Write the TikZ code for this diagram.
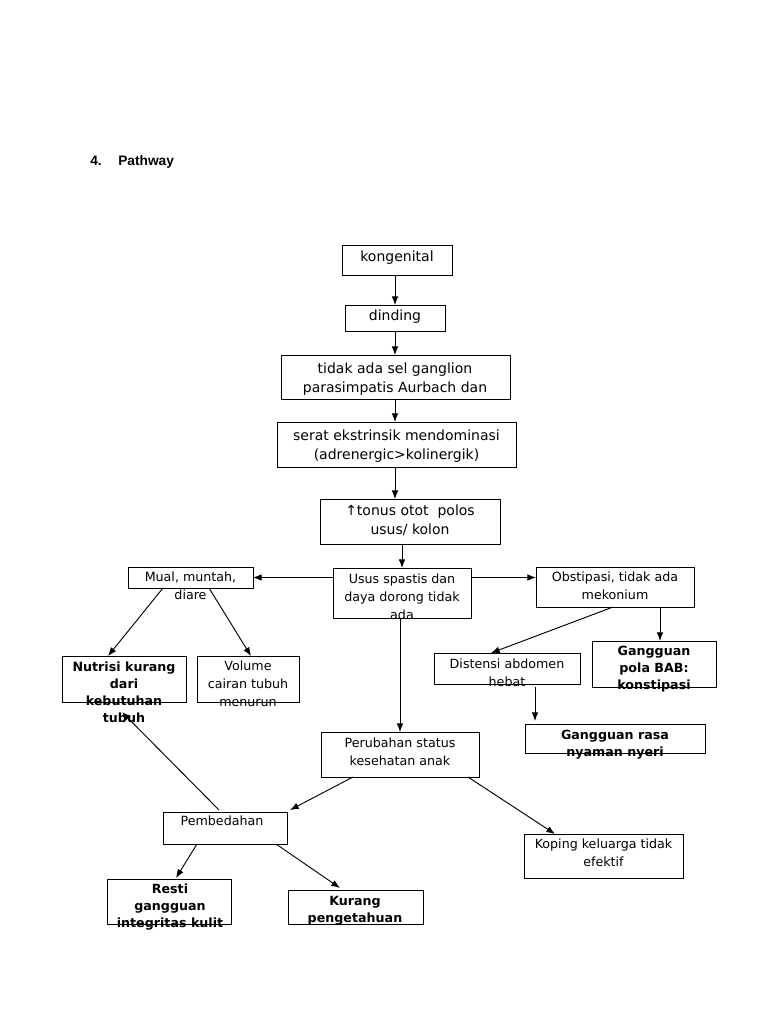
\documentclass[tikz,border=0pt]{standalone}
\usepackage{fontspec}
\setmainfont{DejaVu Sans}
\newfontfamily\hdfont{Liberation Sans}
\usetikzlibrary{arrows.meta,calc}
\tikzset{
  bx/.style={draw, line width=0.7pt, inner sep=0pt, outer sep=0pt},
  tA/.style={inner sep=0pt, anchor=north, align=center, font=\fontsize{10.5}{13.8}\selectfont},
  tB/.style={inner sep=0pt, anchor=north, align=center, font=\fontsize{9.5}{13.2}\selectfont},
  tC/.style={inner sep=0pt, anchor=north, align=center, font=\fontsize{9.5}{12.6}\selectfont\bfseries},
  ar/.style={-{Latex[length=6.5pt,width=5pt]}, line width=0.7pt},
  ln/.style={line width=0.7pt}
}
\newcommand\bxn[5]{\node[bx, minimum width={(#4-#2)*0.75pt}, minimum height={(#5-#3)*0.75pt}] (#1) at ({(#2+#4)/2},{(#3+#5)/2}) {};}
\begin{document}
\begin{tikzpicture}[x=0.75pt,y=-0.75pt]
\fill[white] (0,0) rectangle (768,1024);
\path[use as bounding box] (0,0) rectangle (768,1024);

% heading
\node[inner sep=0pt, anchor=base west, font=\hdfont\fontsize{10.3}{12}\selectfont\bfseries] (hnum) at (90,165) {4.};
\node[inner sep=0pt, anchor=base west, font=\hdfont\fontsize{10.3}{12}\selectfont\bfseries] (htit) at (118,165) {Pathway};

% boxes
\bxn{kong}{342}{245}{452}{275}
\bxn{ding}{345}{305}{445}{331}
\bxn{tidak}{281}{355}{510}{399}
\bxn{serat}{277}{422}{516}{467}
\bxn{tonus}{320}{499}{500}{544}
\bxn{usus}{333}{568}{471}{618}
\bxn{mual}{128}{567}{253}{588}
\bxn{obst}{536}{567}{694}{607}
\bxn{nutr}{62}{656}{186}{702}
\bxn{vol}{197}{656}{299}{702}
\bxn{dist}{434}{653}{580}{684}
\bxn{gpola}{592}{641}{716}{687}
\bxn{grasa}{525}{724}{705}{753}
\bxn{perub}{321}{732}{479}{777}
\bxn{pemb}{163}{812}{287}{844}
\bxn{kop}{524}{834}{683}{878}
\bxn{resti}{107}{879}{231}{924}
\bxn{kur}{288}{890}{423}{924}

% texts
\node[tA] (kongt) at (397,251) {kongenital};
\node[tA] (dingt) at (395,310) {dinding};
\node[tA] (tidakt) at (395,363) {tidak ada sel ganglion\\parasimpatis Aurbach dan};
\node[tA] (seratt) at (396.5,430) {serat ekstrinsik mendominasi\\(adrenergic>kolinergik)};
\node[tA] (tonust) at (410,505) {↑tonus otot\ \ polos\\usus/ kolon};
\node[tB] (usust) at (402,574) {Usus spastis dan\\daya dorong tidak\\ada};
\node[tB] (mualt) at (190.5,572) {Mual, muntah,\\diare};
\node[tB] (obstt) at (615,572) {Obstipasi, tidak ada\\mekonium};
\node[tC] (nutrt) at (124,662) {Nutrisi kurang\\dari\\kebutuhan\\tubuh};
\node[tB] (volt) at (248,661) {Volume\\cairan tubuh\\menurun};
\node[tB] (distt) at (507,659) {Distensi abdomen\\hebat};
\node[tC] (gpolat) at (654,646) {Gangguan\\pola BAB:\\konstipasi};
\node[tC] (grasat) at (615,730) {Gangguan rasa\\nyaman nyeri};
\node[tB] (perubt) at (400,738) {Perubahan status\\kesehatan anak};
\node[tB] (pembt) at (222,816) {Pembedahan};
\node[tB] (kopt) at (603.5,839) {Koping keluarga tidak\\efektif};
\node[tC] (restit) at (170,884) {Resti\\gangguan\\integritas kulit};
\node[tC] (kurt) at (355,896) {Kurang\\pengetahuan};

% connectors
\draw[ar] (ding.north |- kong.south) -- (ding.north);
\draw[ar] (ding.south) -- (ding.south |- tidak.north);
\draw[ar] (ding.south |- tidak.south) -- (ding.south |- serat.north);
\draw[ar] (ding.south |- serat.south) -- (ding.south |- tonus.north);
\draw[ar] (usus.north |- tonus.south) -- (usus.north);
\draw[ar] (usus.west |- mual.east) -- (mual.east);
\draw[ar] (usus.east |- mual.east) -- (obst.west |- mual.east);
\draw[ar] ($(mual.south west)+(35,0)$) -- ($(nutr.north west)+(46,0)$);
\draw[ar] ($(mual.south west)+(81,0)$) -- ($(vol.north west)+(54,0)$);
\draw[ar] ($(obst.south west)+(77,0)$) -- ($(dist.north west)+(57,0)$);
\draw[ar] ($(obst.south west)+(124,0)$) -- ($(gpola.north west)+(68,0)$);
\draw[ar] ($(dist.south west)+(101,3)$) -- ($(grasa.north west)+(10,-3)$);
\draw[ar] (perub.north |- usus.south) -- (perub.north);
\draw[ar] ($(perub.south west)+(32,0)$) -- ($(pemb.north east)+(3,-2)$);
\draw[ar] ($(perub.south east)+(-11,0)$) -- ($(kop.north west)+(31,0)$);
\draw[ar] ($(pemb.north west)+(56,-2)$) -- ($(nutr.south west)+(60,10)$);
\draw[ar] ($(pemb.south west)+(34,0)$) -- ($(resti.north west)+(69,-1)$);
\draw[ar] ($(pemb.south west)+(113,0)$) -- ($(kur.north west)+(52,-2)$);
\end{tikzpicture}
\end{document}
